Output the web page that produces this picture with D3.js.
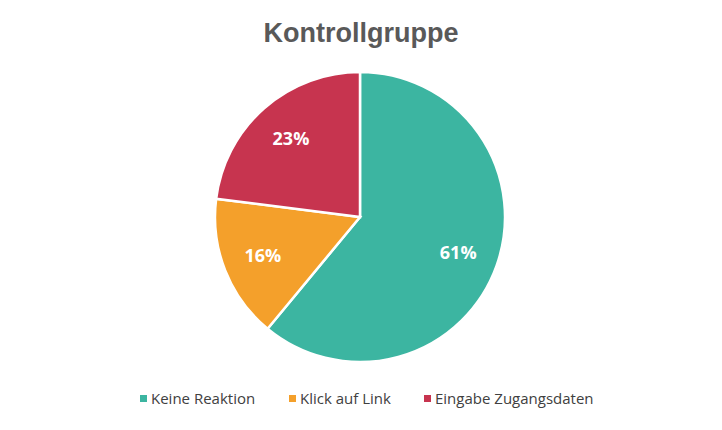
<!DOCTYPE html>
<html><head><meta charset="utf-8">
<script src="https://cdn.jsdelivr.net/npm/d3@7"></script>
<style>body{margin:0;background:#fff;font-family:"Open Sans",sans-serif}</style>
</head><body>
<svg id="chart" width="722" height="430"></svg>
<script>
// Daten
const categories = ["Keine Reaktion", "Klick auf Link", "Eingabe Zugangsdaten"];
const values = [61, 16, 23];
const colors = ["#3cb5a1", "#f4a02b", "#c7344f"];

const svg = d3.select("#chart");
const cx = 360, cy = 217, r = 145;

svg.append("text").attr("x", 361).attr("y", 42).attr("text-anchor", "middle")
  .style("font-family", "Liberation Sans, Arial, sans-serif")
  .style("font-weight", "bold").style("font-size", "27px").style("fill", "#595959")
  .text("Kontrollgruppe");

const pie = d3.pie().sort(null).value(d => d);
const arcs = pie(values);
const arc = d3.arc().innerRadius(0).outerRadius(r);
const labelArc = d3.arc().innerRadius(r * 0.72).outerRadius(r * 0.72);

const g = svg.append("g").attr("transform", `translate(${cx},${cy})`);
g.selectAll("path").data(arcs).enter().append("path")
  .attr("d", arc).attr("fill", (d, i) => colors[i])
  .attr("stroke", "#fff").attr("stroke-width", 2.5);

g.selectAll(".lbl").data(arcs).enter().append("text")
  .attr("transform", d => `translate(${labelArc.centroid(d)})`)
  .attr("text-anchor", "middle").attr("dy", "0.35em")
  .style("font-weight", "bold").style("font-size", "18px").style("fill", "#fff")
  .text(d => d.data + "%");

// Legende
const legendX = [140, 289, 424];
const lg = svg.selectAll(".leg").data(categories).enter().append("g")
  .attr("transform", (d, i) => `translate(${legendX[i]},399)`);
lg.append("rect").attr("x", 0).attr("y", -4).attr("width", 7).attr("height", 7)
  .attr("fill", (d, i) => colors[i]);
lg.append("text").attr("x", 11).attr("dy", "0.35em")
  .style("font-size", "15px").style("fill", "#404040").text(d => d);
</script>
</body></html>
